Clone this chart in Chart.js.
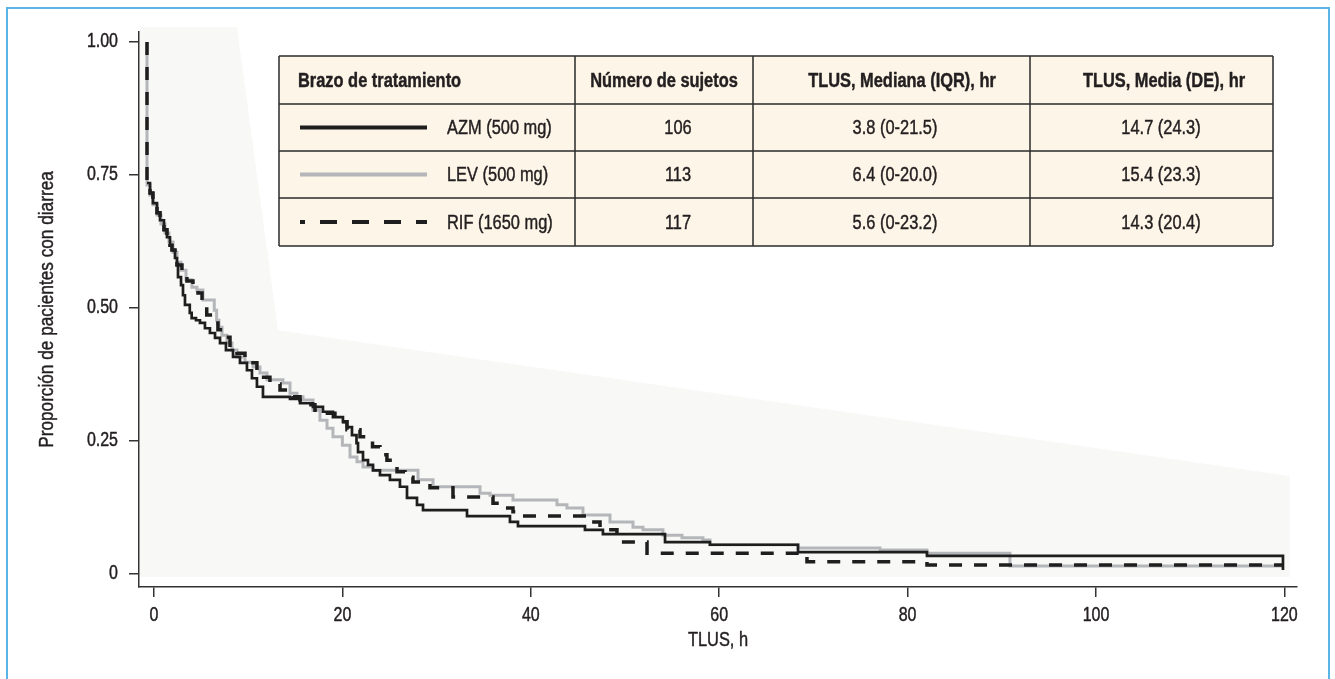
<!DOCTYPE html>
<html lang="es">
<head>
<meta charset="utf-8">
<title>Proporción de pacientes con diarrea según TLUS</title>
<script src="https://cdn.jsdelivr.net/npm/chart.js@4/dist/chart.umd.min.js"></script>
<style>
  html, body { margin: 0; padding: 0; background: #ffffff; }
  #wrap { width: 1335px; height: 679px; position: relative; }
  canvas { display: block; }
</style>
</head>
<body>
<div id="wrap"><canvas id="km" width="1335" height="679"></canvas></div>
<script>
// Kaplan-Meier step points: time (h) and proportion still with diarrhoea
const azmTime = [-0.74, -0.42, -0.11, 0.32, 0.64, 1.06, 1.38, 1.70, 1.91, 2.23, 2.44, 2.55, 2.87, 3.08, 3.29, 3.80, 4.00, 4.46, 4.88, 5.41, 5.94, 6.48, 7.01, 7.64, 8.39, 9.13, 9.87, 10.40, 10.93, 11.57, 14.44, 15.50, 16.88, 17.94, 19.00, 20.06, 20.49, 21.02, 21.50, 21.66, 22.19, 22.72, 23.25, 23.99, 25.05, 26.11, 26.86, 27.92, 28.56, 33.23, 37.79, 38.64, 45.75, 47.66, 54.25, 59.02, 68.37, 82.06, 119.85];
const azmSurv = [0.735, 0.716, 0.697, 0.679, 0.665, 0.647, 0.633, 0.618, 0.609, 0.594, 0.581, 0.558, 0.543, 0.524, 0.506, 0.491, 0.481, 0.477, 0.472, 0.462, 0.453, 0.444, 0.434, 0.421, 0.408, 0.397, 0.383, 0.368, 0.352, 0.333, 0.329, 0.321, 0.314, 0.305, 0.295, 0.286, 0.276, 0.261, 0.246, 0.229, 0.214, 0.205, 0.195, 0.186, 0.177, 0.164, 0.143, 0.130, 0.120, 0.109, 0.098, 0.090, 0.083, 0.075, 0.060, 0.055, 0.041, 0.034, 0.0075];

const levTime = [-0.74, -0.74, -0.42, -0.11, 0.32, 0.74, 1.17, 1.59, 2.02, 2.44, 2.87, 3.40, 4.03, 4.56, 5.20, 6.40, 6.65, 6.90, 7.22, 7.75, 8.28, 8.81, 9.66, 10.51, 11.25, 12.00, 13.69, 14.44, 15.18, 15.82, 16.88, 17.62, 18.37, 19.00, 20.00, 20.81, 21.55, 22.19, 23.25, 28.03, 29.62, 34.61, 35.67, 38.11, 42.78, 43.84, 45.54, 48.41, 50.85, 51.91, 54.03, 56.05, 58.28, 59.02, 68.37, 77.07, 82.06, 90.87, 119.85];
const levSurv = [1.0, 0.731, 0.712, 0.694, 0.675, 0.658, 0.641, 0.624, 0.605, 0.586, 0.571, 0.553, 0.539, 0.534, 0.515, 0.496, 0.477, 0.464, 0.449, 0.434, 0.421, 0.408, 0.398, 0.389, 0.378, 0.365, 0.359, 0.340, 0.333, 0.327, 0.308, 0.289, 0.274, 0.258, 0.242, 0.220, 0.211, 0.201, 0.195, 0.177, 0.164, 0.152, 0.148, 0.139, 0.130, 0.124, 0.111, 0.098, 0.088, 0.083, 0.073, 0.068, 0.064, 0.055, 0.049, 0.045, 0.039, 0.015, 0.015];

const rifTime = [-0.74, -0.74, -0.42, -0.11, 0.32, 0.64, 1.06, 1.38, 1.70, 1.91, 2.23, 2.44, 2.97, 3.50, 4.14, 4.67, 5.10, 5.35, 5.60, 6.26, 6.79, 7.32, 8.07, 8.81, 9.66, 10.51, 10.93, 11.25, 12.31, 13.38, 14.76, 15.50, 16.24, 17.09, 17.94, 19.21, 19.75, 20.49, 21.87, 23.20, 23.99, 24.73, 25.80, 26.65, 27.49, 29.30, 31.74, 35.99, 36.73, 38.11, 38.85, 45.97, 47.35, 49.15, 52.34, 69.32, 82.06, 119.85];
const rifSurv = [1.0, 0.735, 0.716, 0.697, 0.679, 0.665, 0.647, 0.633, 0.618, 0.609, 0.594, 0.581, 0.562, 0.551, 0.538, 0.528, 0.515, 0.504, 0.487, 0.472, 0.459, 0.445, 0.430, 0.415, 0.406, 0.397, 0.383, 0.370, 0.357, 0.346, 0.333, 0.327, 0.318, 0.308, 0.302, 0.293, 0.286, 0.271, 0.258, 0.239, 0.224, 0.214, 0.192, 0.182, 0.173, 0.162, 0.145, 0.133, 0.124, 0.117, 0.109, 0.098, 0.083, 0.060, 0.039, 0.023, 0.017, 0.017];

// Axis ticks
const xTickValues = [0, 20, 40, 60, 80, 100, 120];
const yTickValues = [0, 0.25, 0.5, 0.75, 1];
const yTickLabels = ['0', '0.25', '0.50', '0.75', '1.00'];

// Summary table
const tableHeaders = ['Brazo de tratamiento', 'Número de sujetos', 'TLUS, Mediana (IQR), hr', 'TLUS, Media (DE), hr'];
const armLabels = ['AZM (500 mg)', 'LEV (500 mg)', 'RIF (1650 mg)'];
const armSubjects = ['106', '113', '117'];
const armMedianIqr = ['3.8 (0-21.5)', '6.4 (0-20.0)', '5.6 (0-23.2)'];
const armMeanSd = ['14.7 (24.3)', '15.4 (23.3)', '14.3 (20.4)'];

// Light backdrop polygon behind the curves (data units)
const shadeX = [-1.49, 8.81, 13.16, 120.56, 120.56, -1.49];
const shadeY = [1.0276, 1.0276, 0.4584, 0.1841, -0.0056, -0.0056];

const FONT = '"Liberation Sans", Arimo, Arial, sans-serif';
const NARROW = 0.82;          // horizontal squeeze giving a condensed face
const INK = '#231f20';
Chart.defaults.font.family = FONT;
Chart.defaults.color = INK;

const toPoints = (t, s) => t.map((v, i) => ({ x: v, y: s[i] }));

// All text on this canvas is set in a condensed, slightly heavier cut
const narrowTextPlugin = {
  id: 'narrowText',
  beforeInit(chart) {
    const ctx = chart.ctx;
    const fillBase = CanvasRenderingContext2D.prototype.fillText;
    const strokeBase = CanvasRenderingContext2D.prototype.strokeText;
    ctx.fillText = function (text, x, y, maxWidth) {
      const w = this.measureText(text).width * NARROW;
      const mw = (maxWidth === undefined || maxWidth === null) ? w : Math.min(maxWidth, w);
      fillBase.call(this, text, x, y, mw);
      this.save();
      this.setLineDash([]);
      this.lineWidth = 0.45;
      this.lineJoin = 'round';
      this.strokeStyle = this.fillStyle;
      strokeBase.call(this, text, x, y, mw);
      this.restore();
    };
  }
};

const pagePlugin = {
  id: 'page',
  beforeDraw(chart) {
    const { ctx, scales: { x, y } } = chart;
    ctx.save();
    ctx.fillStyle = '#ffffff';
    ctx.fillRect(0, 0, chart.width, chart.height);
    // frame
    ctx.strokeStyle = '#5ab4e6';
    ctx.lineWidth = 2;
    ctx.beginPath();
    ctx.moveTo(7, 690);
    ctx.lineTo(7, 8);
    ctx.lineTo(1329, 8);
    ctx.lineTo(1329, 690);
    ctx.stroke();
    // backdrop
    ctx.fillStyle = '#f8f8f6';
    ctx.beginPath();
    shadeX.forEach((v, i) => {
      const px = x.getPixelForValue(v), py = y.getPixelForValue(shadeY[i]);
      if (i === 0) ctx.moveTo(px, py); else ctx.lineTo(px, py);
    });
    ctx.closePath();
    ctx.fill();
    ctx.restore();
  }
};

const tablePlugin = {
  id: 'summaryTable',
  afterDraw(chart) {
    const ctx = chart.ctx;
    const cols = [279, 575, 753, 1030, 1273];
    const rows = [56, 104, 151, 198, 246];
    const headCenters = [null, 664, 902, 1164];
    const cellCenters = [null, 678, 895, 1161];
    ctx.save();
    ctx.fillStyle = '#fdf5e7';
    ctx.fillRect(cols[0], rows[0], cols[4] - cols[0], rows[4] - rows[0]);
    ctx.strokeStyle = '#2b2b2b';
    ctx.lineWidth = 1.5;
    ctx.beginPath();
    rows.forEach(r => { ctx.moveTo(cols[0], r); ctx.lineTo(cols[4], r); });
    cols.forEach(c => { ctx.moveTo(c, rows[0]); ctx.lineTo(c, rows[4]); });
    ctx.stroke();

    ctx.fillStyle = INK;
    ctx.textBaseline = 'middle';
    ctx.font = 'bold 20px ' + FONT;
    const hy = (rows[0] + rows[1]) / 2 + 1;
    ctx.textAlign = 'left';
    ctx.fillText(tableHeaders[0], 298, hy);
    ctx.textAlign = 'center';
    for (let c = 1; c < 4; c++) ctx.fillText(tableHeaders[c], headCenters[c], hy);

    ctx.font = '20px ' + FONT;
    const ds = chart.data.datasets;
    const order = ['AZM', 'LEV', 'RIF'];
    for (let r = 0; r < 3; r++) {
      const cy = (rows[r + 1] + rows[r + 2]) / 2 + 1;
      const d = ds.find(s => s.key === order[r]);
      ctx.save();
      ctx.strokeStyle = d.borderColor;
      ctx.lineWidth = 4;
      if (d.borderDash && d.borderDash.length) {
        ctx.setLineDash([17, 15]);
        ctx.lineDashOffset = 12;
      }
      ctx.beginPath();
      ctx.moveTo(300, cy - 1);
      ctx.lineTo(427, cy - 1);
      ctx.stroke();
      ctx.restore();
      ctx.textAlign = 'left';
      ctx.fillText(armLabels[r], 447, cy);
      ctx.textAlign = 'center';
      ctx.fillText(armSubjects[r], cellCenters[1], cy);
      ctx.fillText(armMedianIqr[r], cellCenters[2], cy);
      ctx.fillText(armMeanSd[r], cellCenters[3], cy);
    }
    ctx.restore();
  }
};

const axisGrid = { drawOnChartArea: false, drawTicks: true, tickLength: 10, color: '#333333', lineWidth: 1.5 };
const axisBorder = { display: true, color: '#333333', width: 1.5 };

new Chart(document.getElementById('km'), {
  type: 'scatter',
  data: {
    datasets: [
      { key: 'RIF', label: 'RIF (1650 mg)', data: toPoints(rifTime, rifSurv), showLine: true, stepped: 'before',
        borderColor: '#1e1e1e', borderWidth: 3.5, borderDash: [13, 12], pointRadius: 0, order: 1 },
      { key: 'AZM', label: 'AZM (500 mg)', data: toPoints(azmTime, azmSurv), showLine: true, stepped: 'before',
        borderColor: '#1e1e1e', borderWidth: 2.7, pointRadius: 0, order: 2 },
      { key: 'LEV', label: 'LEV (500 mg)', data: toPoints(levTime, levSurv), showLine: true, stepped: 'before',
        borderColor: '#b4b6b9', borderWidth: 3, pointRadius: 0, order: 3 }
    ]
  },
  options: {
    responsive: false,
    animation: false,
    events: [],
    layout: { padding: { left: 0, top: 32, right: 38, bottom: 0 } },
    scales: {
      x: {
        type: 'linear', min: -1.59, max: 121.34,
        afterBuildTicks: s => { s.ticks = xTickValues.map(v => ({ value: v })); },
        afterFit: s => { s.height = 92; },
        grid: axisGrid, border: axisBorder,
        ticks: { font: { size: 19.5 }, color: INK, padding: 7, maxRotation: 0, autoSkip: false },
        title: { display: true, text: 'TLUS, h', font: { size: 20 }, color: INK, padding: { top: 0, bottom: 27 } }
      },
      y: {
        type: 'linear', min: -0.0244, max: 1.0188,
        afterBuildTicks: s => { s.ticks = yTickValues.map(v => ({ value: v })); },
        afterFit: s => { s.width = 139; },
        grid: axisGrid, border: axisBorder,
        ticks: { font: { size: 19.5 }, color: INK, padding: 11, autoSkip: false,
                 callback: (v, i) => yTickLabels[i] },
        title: { display: true, text: 'Proporción de pacientes con diarrea', font: { size: 21 }, color: INK,
                 padding: { top: 35, bottom: 0 } }
      }
    },
    plugins: { legend: { display: false }, tooltip: { enabled: false } }
  },
  plugins: [narrowTextPlugin, pagePlugin, tablePlugin]
});
</script>
</body>
</html>
